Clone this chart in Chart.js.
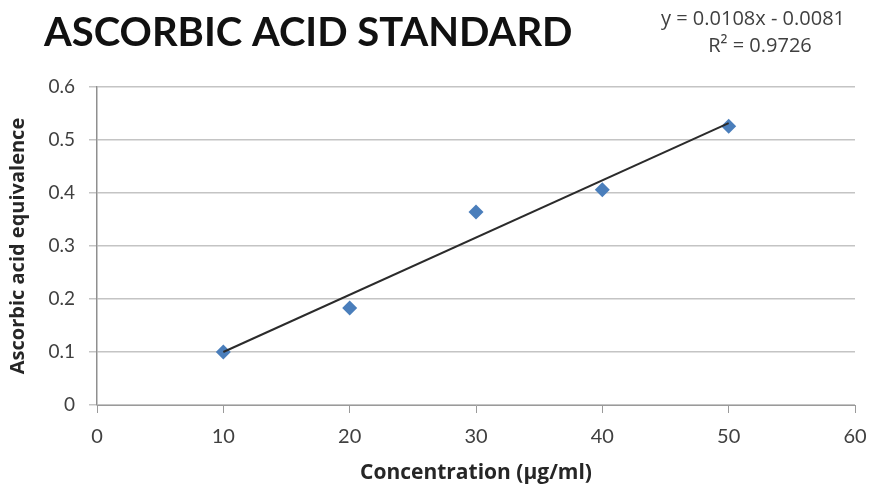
<!DOCTYPE html>
<html>
<head>
<meta charset="utf-8">
<script src="https://cdn.jsdelivr.net/npm/chart.js@4.4.0/dist/chart.umd.min.js"></script>
<style>
  html, body { margin: 0; padding: 0; background: #fff; }
  #wrap { width: 873px; height: 486px; position: relative; }
</style>
</head>
<body>
<div id="wrap"><canvas id="chart" width="873" height="486"></canvas></div>
<script>
// values
const concentration = [10, 20, 30, 40, 50];
const equivalence = [0.1, 0.183, 0.364, 0.406, 0.526];
// trend line ends as drawn
const trendX = [10, 50];
const trendY = [0.1, 0.532];

const chartTitle = "ASCORBIC ACID STANDARD";
const equationText = "y = 0.0108x - 0.0081";
const rSquaredText = "R² = 0.9726";
const xTitle = "Concentration (µg/ml)";
const yTitle = "Ascorbic acid equivalence";

const FONT = "Lato, 'Open Sans', sans-serif";
const WIDE = "'Open Sans', Lato, sans-serif";

// title + trendline label drawn on the canvas
const headerText = {
    id: 'headerText',
    afterDraw(chart) {
        const ctx = chart.ctx;
        ctx.save();
        ctx.fillStyle = '#111';
        ctx.font = 'bold 40px ' + FONT;
        ctx.textBaseline = 'middle';
        ctx.textAlign = 'left';
        ctx.fillText(chartTitle, 44, 33);

        ctx.fillStyle = '#404040';
        ctx.font = '20px ' + WIDE;
        ctx.textAlign = 'center';
        ctx.fillText(equationText, 753, 19);
        ctx.fillText(rSquaredText, 760, 46);
        ctx.restore();
    }
};

const points = concentration.map((x, i) => ({ x: x, y: equivalence[i] }));
const trend = trendX.map((x, i) => ({ x: x, y: trendY[i] }));

new Chart(document.getElementById('chart'), {
    type: 'scatter',
    data: {
        datasets: [
            {
                label: 'Trend',
                data: trend,
                showLine: true,
                borderColor: '#2b2b2b',
                borderWidth: 2,
                pointRadius: 0,
                fill: false
            },
            {
                label: 'Standard',
                data: points,
                pointStyle: 'rectRot',
                pointRadius: 7.5,
                pointHoverRadius: 7.5,
                backgroundColor: '#4a7ebb',
                borderColor: '#4a7ebb',
                borderWidth: 0
            }
        ]
    },
    options: {
        responsive: false,
        animation: false,
        layout: { padding: { top: 87, right: 18, left: 0, bottom: 0 } },
        plugins: {
            legend: { display: false },
            tooltip: { enabled: false }
        },
        scales: {
            x: {
                type: 'linear',
                min: 0,
                max: 60,
                ticks: {
                    stepSize: 10,
                    padding: 12,
                    color: '#404040',
                    font: { family: FONT, size: 20 }
                },
                grid: {
                    drawOnChartArea: false,
                    drawTicks: true,
                    tickLength: 8,
                    color: '#9a9a9a'
                },
                border: { display: true, color: '#9a9a9a', width: 1 },
                title: {
                    display: true,
                    text: xTitle,
                    color: '#262626',
                    font: { family: WIDE, size: 21, weight: 'bold' },
                    padding: { top: 0, bottom: 0 }
                },
                afterFit(scale) {
                    scale.height = 81;
                    scale.paddingRight = 0;
                }
            },
            y: {
                type: 'linear',
                min: 0,
                max: 0.6,
                ticks: {
                    stepSize: 0.1,
                    padding: 14,
                    color: '#404040',
                    font: { family: FONT, size: 19 },
                    callback: v => v === 0 ? '0' : v.toFixed(1)
                },
                grid: {
                    drawTicks: true,
                    tickLength: 8,
                    color: '#c4c4c4',
                    lineWidth: 1.5
                },
                border: { display: true, color: '#8f8f8f', width: 1.5 },
                title: {
                    display: true,
                    text: yTitle,
                    color: '#262626',
                    font: { family: WIDE, size: 20, weight: 'bold' },
                    padding: { top: 6, bottom: 4 }
                },
                afterFit(scale) { scale.width = 97; }
            }
        }
    },
    plugins: [headerText]
});
</script>
</body>
</html>
